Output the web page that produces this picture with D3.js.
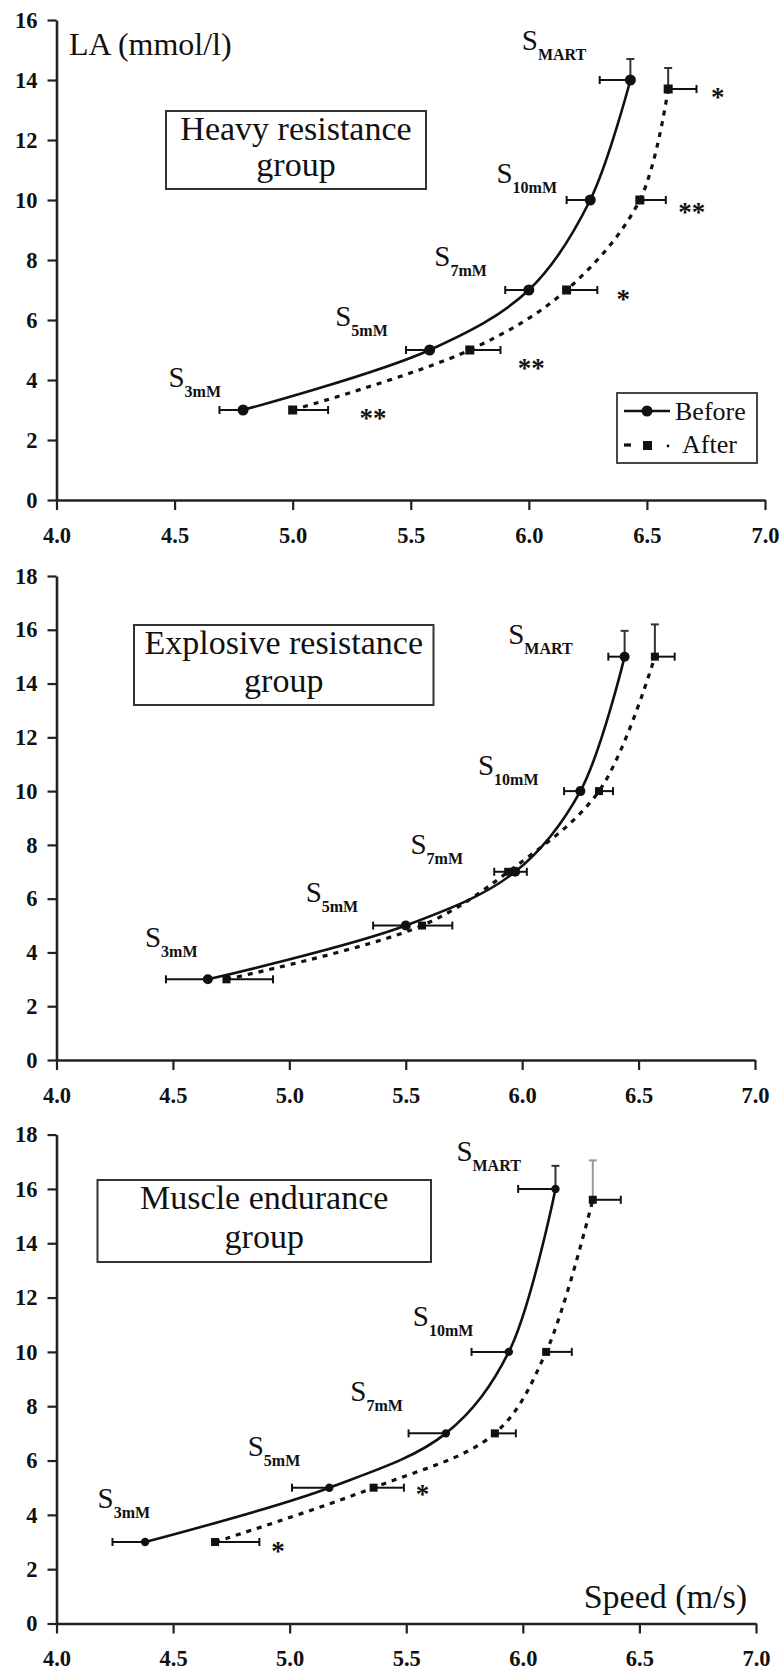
<!DOCTYPE html>
<html><head><meta charset="utf-8">
<script src="https://cdn.jsdelivr.net/npm/d3@7"></script>
<style>
body{margin:0;background:#fff}
svg{display:block}
text{font-family:"Liberation Serif","Times New Roman",serif;fill:#111}
</style>
</head><body>
<svg id="chart" width="780" height="1673"></svg>
<script>
// ---------- DATA ----------
const xTicks = [4.0, 4.5, 5.0, 5.5, 6.0, 6.5, 7.0];
const stageNames = ["3mM", "5mM", "7mM", "10mM", "MART"];
const groupTitles = [["Heavy resistance", "group"], ["Explosive resistance", "group"], ["Muscle endurance", "group"]];
const seriesNames = ["Before", "After"];
const yAxisLabel = "LA (mmol/l)";
const xAxisLabel = "Speed (m/s)";

// Heavy resistance group
const heavyBeforeSpeed = [4.79, 5.58, 6.00, 6.26, 6.43];
const heavyBeforeLA    = [3, 5, 7, 10, 14];
const heavyBeforeSpeedErr = [0.10, 0.10, 0.10, 0.10, 0.13];
const heavyBeforeLAErr    = [0, 0, 0, 0, 0.7];
const heavyAfterSpeed  = [5.00, 5.75, 6.16, 6.47, 6.59];
const heavyAfterLA     = [3, 5, 7, 10, 13.7];
const heavyAfterSpeedErr = [0.15, 0.13, 0.13, 0.11, 0.12];
const heavyAfterLAErr    = [0, 0, 0, 0, 0.7];
const heavyLabelPos = [[4.474, 3.78], [5.18, 5.80], [5.60, 7.79], [5.863, 10.57], [5.97, 15.0]];
const heavySignif = [["**", 5.34, 2.9], ["**", 6.01, 4.55], ["*", 6.40, 6.85], ["**", 6.69, 9.75], ["*", 6.80, 13.6]];

// Explosive resistance group
const explBeforeSpeed = [4.65, 5.50, 5.97, 6.25, 6.44];
const explBeforeLA    = [3, 5, 7, 10, 15];
const explBeforeSpeedErr = [0.18, 0.14, 0.09, 0.07, 0.07];
const explBeforeLAErr    = [0, 0, 0, 0, 0.96];
const explAfterSpeed  = [4.73, 5.57, 5.94, 6.33, 6.57];
const explAfterLA     = [3, 5, 7, 10, 15];
const explAfterSpeedErr = [0.20, 0.13, 0.08, 0.06, 0.085];
const explAfterLAErr    = [0, 0, 0, 0, 1.2];
const explLabelPos = [[4.38, 4.2], [5.07, 5.87], [5.52, 7.67], [5.81, 10.6], [5.94, 15.47]];
const explSignif = [];

// Muscle endurance group
const endBeforeSpeed = [4.38, 5.17, 5.67, 5.94, 6.14];
const endBeforeLA    = [3, 5, 7, 10, 16];
const endBeforeSpeedErr = [0.14, 0.16, 0.16, 0.16, 0.16];
const endBeforeLAErr    = [0, 0, 0, 0, 0.85];
const endAfterSpeed  = [4.68, 5.36, 5.88, 6.10, 6.30];
const endAfterLA     = [3, 5, 7, 10, 15.6];
const endAfterSpeedErr = [0.19, 0.13, 0.09, 0.11, 0.12];
const endAfterLAErr    = [0, 0, 0, 0, 1.45];
const endLabelPos = [[4.176, 4.24], [4.82, 6.16], [5.26, 8.2], [5.528, 10.94], [5.715, 17.03]];
const endSignif = [["*", 4.95, 2.85], ["*", 5.57, 4.95]];

// ---------- LAYOUT ----------
const zip = (s, la, xe, ye) => s.map((v, i) => ({x: v, y: la[i], xe: xe[i], ye: ye[i]}));
const panels = [
  {ymax: 16, yTop: 20, yBot: 500, xL: 56.5, xR: 765, r: 5.5, sq: 9,
   box: [166, 111, 260, 78], base: [140, 176], title: groupTitles[0],
   before: zip(heavyBeforeSpeed, heavyBeforeLA, heavyBeforeSpeedErr, heavyBeforeLAErr),
   after: zip(heavyAfterSpeed, heavyAfterLA, heavyAfterSpeedErr, heavyAfterLAErr),
   labels: heavyLabelPos, signif: heavySignif, ylab: true, legend: true},
  {ymax: 18, yTop: 576, yBot: 1060, xL: 56.5, xR: 755, r: 5, sq: 8,
   box: [134, 625, 299.5, 80], base: [654, 692], title: groupTitles[1],
   before: zip(explBeforeSpeed, explBeforeLA, explBeforeSpeedErr, explBeforeLAErr),
   after: zip(explAfterSpeed, explAfterLA, explAfterSpeedErr, explAfterLAErr),
   labels: explLabelPos, signif: explSignif},
  {ymax: 18, yTop: 1134.6, yBot: 1623.5, xL: 56.5, xR: 756, r: 4.2, sq: 8,
   box: [97.5, 1180, 333.5, 82], base: [1209, 1248], title: groupTitles[2],
   before: zip(endBeforeSpeed, endBeforeLA, endBeforeSpeedErr, endBeforeLAErr),
   after: zip(endAfterSpeed, endAfterLA, endAfterSpeedErr, endAfterLAErr),
   labels: endLabelPos, signif: endSignif, xlab: true, grayAfterV: true}
];

const svg = d3.select("#chart");
const INK = "#111";

panels.forEach(p => {
  const x = d3.scaleLinear().domain([4, 7]).range([p.xL, p.xR]);
  const y = d3.scaleLinear().domain([0, p.ymax]).range([p.yBot, p.yTop]);
  const g = svg.append("g");

  // axes
  const ya = g.append("g").attr("transform", `translate(${p.xL},0)`)
    .call(d3.axisLeft(y).tickValues(d3.range(0, p.ymax + 1, 2)).tickFormat(d3.format("d"))
      .tickSize(9).tickSizeOuter(0).tickPadding(10));
  const xa = g.append("g").attr("transform", `translate(0,${p.yBot})`)
    .call(d3.axisBottom(x).tickValues(xTicks).tickFormat(d3.format(".1f"))
      .tickSize(10).tickSizeOuter(0).tickPadding(17));
  [ya, xa].forEach(a => {
    a.select(".domain").attr("stroke", "#222").attr("stroke-width", 2.6);
    a.selectAll(".tick line").attr("stroke", "#222").attr("stroke-width", 2.2);
    a.selectAll(".tick text").attr("font-family", "Liberation Serif, Times New Roman, serif")
      .attr("font-size", 22.5).attr("font-weight", "bold").attr("fill", "#111");
  });

  // title box
  g.append("rect").attr("x", p.box[0]).attr("y", p.box[1]).attr("width", p.box[2]).attr("height", p.box[3])
    .attr("fill", "none").attr("stroke", "#333").attr("stroke-width", 2);
  const cx = p.box[0] + p.box[2] / 2;
  p.title.forEach((t, i) => {
    g.append("text").attr("x", cx).attr("y", p.base[i]).attr("text-anchor", "middle")
      .attr("font-size", 34).text(t);
  });

  // curves
  const line = d3.line().x(d => x(d.x)).y(d => y(d.y)).curve(d3.curveCatmullRom.alpha(0.5));
  g.append("path").datum(p.before).attr("d", line).attr("fill", "none")
    .attr("stroke", INK).attr("stroke-width", 2.6);
  g.append("path").datum(p.after).attr("d", line).attr("fill", "none")
    .attr("stroke", INK).attr("stroke-width", 3.2).attr("stroke-dasharray", "5,6");

  // error bars
  const cap = 4;
  const drawErr = (data, dir, vcol) => {
    data.forEach(d => {
      const x0 = x(d.x), y0 = y(d.y), xe = x(d.x + dir * d.xe);
      g.append("line").attr("x1", x0).attr("x2", xe).attr("y1", y0).attr("y2", y0)
        .attr("stroke", INK).attr("stroke-width", 2);
      g.append("line").attr("x1", xe).attr("x2", xe).attr("y1", y0 - cap).attr("y2", y0 + cap)
        .attr("stroke", INK).attr("stroke-width", 2);
      if (d.ye > 0) {
        const ye = y(d.y + d.ye);
        g.append("line").attr("x1", x0).attr("x2", x0).attr("y1", y0).attr("y2", ye)
          .attr("stroke", vcol).attr("stroke-width", 2);
        g.append("line").attr("x1", x0 - cap).attr("x2", x0 + cap).attr("y1", ye).attr("y2", ye)
          .attr("stroke", vcol).attr("stroke-width", 2);
      }
    });
  };
  drawErr(p.before, -1, "#333");
  drawErr(p.after, 1, p.grayAfterV ? "#999" : "#333");

  // markers
  g.selectAll(null).data(p.before).join("circle")
    .attr("cx", d => x(d.x)).attr("cy", d => y(d.y)).attr("r", p.r).attr("fill", INK);
  g.selectAll(null).data(p.after).join("rect")
    .attr("x", d => x(d.x) - p.sq / 2).attr("y", d => y(d.y) - p.sq / 2)
    .attr("width", p.sq).attr("height", p.sq).attr("fill", INK);

  // stage labels S_xxx
  p.labels.forEach((lp, i) => {
    const t = g.append("text").attr("x", x(lp[0])).attr("y", y(lp[1])).attr("font-size", 29);
    t.append("tspan").text("S");
    t.append("tspan").attr("font-size", 16).attr("font-weight", "bold").attr("dy", 10).text(stageNames[i]);
  });

  // significance markers
  p.signif.forEach(s => {
    g.append("text").attr("x", x(s[1])).attr("y", y(s[2])).attr("dy", "0.5em")
      .attr("text-anchor", "middle").attr("font-size", 27).attr("font-weight", "bold")
      .attr("fill", "#555").text(s[0]);
  });

  if (p.ylab) {
    g.append("text").attr("x", 69).attr("y", 55).attr("font-size", 32).text(yAxisLabel);
  }
  if (p.xlab) {
    g.append("text").attr("x", 747).attr("y", 1608).attr("text-anchor", "end")
      .attr("font-size", 34).text(xAxisLabel);
  }
  if (p.legend) {
    const L = g.append("g");
    L.append("rect").attr("x", 617).attr("y", 393).attr("width", 140).attr("height", 70)
      .attr("fill", "#fff").attr("stroke", "#333").attr("stroke-width", 1.8);
    L.append("line").attr("x1", 624).attr("x2", 670).attr("y1", 411).attr("y2", 411)
      .attr("stroke", INK).attr("stroke-width", 2.6);
    L.append("circle").attr("cx", 647).attr("cy", 411).attr("r", 5.5).attr("fill", INK);
    L.append("text").attr("x", 675).attr("y", 420).attr("font-size", 26).text(seriesNames[0]);
    L.append("line").attr("x1", 624).attr("x2", 631).attr("y1", 445).attr("y2", 445)
      .attr("stroke", INK).attr("stroke-width", 3.2);
    L.append("rect").attr("x", 643).attr("y", 441).attr("width", 9).attr("height", 9).attr("fill", INK);
    L.append("circle").attr("cx", 668).attr("cy", 446).attr("r", 1.4).attr("fill", INK);
    L.append("text").attr("x", 682).attr("y", 453).attr("font-size", 26).text(seriesNames[1]);
  }
});
</script>
</body></html>
